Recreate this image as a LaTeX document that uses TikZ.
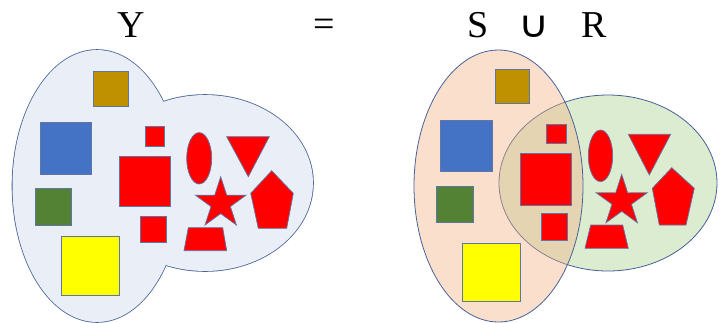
\documentclass[tikz,border=0pt]{standalone}
\usepackage{fontspec}
\setmainfont{Liberation Serif}
\newfontfamily\dejavu{DejaVu Sans}
\definecolor{blobfill}{RGB}{234,239,247}
\definecolor{edge}{RGB}{72,98,152}
\definecolor{shapeedge}{RGB}{95,118,165}
\definecolor{sfill}{RGB}{244,177,131}
\definecolor{rfill}{RGB}{169,209,142}
\definecolor{cbrown}{RGB}{191,144,0}
\definecolor{cblue}{RGB}{68,114,196}
\definecolor{cgreen}{RGB}{84,130,53}
\definecolor{cyellow}{RGB}{255,255,0}
\definecolor{cred}{RGB}{255,0,0}
\tikzset{
  shp/.style={draw=shapeedge, line width=0.7pt},
  redshp/.style={shp, fill=cred},
  label/.style={font=\fontsize{38}{44}\selectfont, inner sep=0pt, anchor=base},
}
\newcommand\mystar[4]{\draw[redshp] ({#1},{#2-#3}) \foreach \i in {1,...,9}{ -- ({#1+(isodd(\i)?#4:#3)*cos(-90+36*\i)},{#2+(isodd(\i)?#4:#3)*sin(-90+36*\i)}) } -- cycle;}
\begin{document}
\begin{tikzpicture}[x=1pt,y=-1pt]
\useasboundingbox (0,0) rectangle (726,322);
\fill[white] (0,0) rectangle (726,322);
% ---- titles
\node[label] (ty) at (131,37.3) {Y};
\node[label] (teq) at (324,36) {=};
\node[label] (ts) at (477.7,37.3) {S};
\node[inner sep=0pt, anchor=base, xscale=1.15, font=\dejavu\fontsize{37}{44}\selectfont] (tcup) at (534,37.3) {∪};
\node[label] (tr) at (593.7,37.3) {R};
% ---- left blob Y (union of two ellipses)
\draw[edge, line width=1.6pt] (97,186) ellipse [x radius=84.5, y radius=136];
\draw[edge, line width=1.6pt] (205,183) ellipse [x radius=108, y radius=88];
\fill[blobfill] (97,186) ellipse [x radius=84.5, y radius=136];
\fill[blobfill] (205,183) ellipse [x radius=108, y radius=88];
% ---- right: S and R
\draw[edge, line width=0.8pt, fill=rfill, fill opacity=0.4] (608,183) ellipse [x radius=109, y radius=88];
\draw[edge, line width=0.8pt, fill=sfill, fill opacity=0.4] (498.5,186) ellipse [x radius=84.5, y radius=136];
% ---- left shapes
\draw[shp, fill=cbrown] (93.3,71) rectangle (128.3,106);
\draw[shp, fill=cblue] (40,122.7) rectangle (91,174);
\draw[shp, fill=cgreen] (35,188.3) rectangle (71.7,225);
\draw[shp, fill=cyellow] (61,236.7) rectangle (119.3,295.3);
\draw[redshp] (145.7,126) rectangle (164.3,146);
\draw[redshp] (119.3,156) rectangle (170.7,206.7);
\draw[redshp] (140,216) rectangle (166.3,242.3);
\draw[redshp] (199.2,158.3) ellipse [x radius=12.5, y radius=25.7];
\draw[redshp] (226.7,136.7) -- (269.3,136.7) -- (248.3,176.7) -- cycle;
\mystar{220.7}{203.4}{26.7}{10.2}
\draw[redshp] (271.7,170.7) -- (293.3,193.3) -- (286.7,228.3) -- (258.3,228.3) -- (250.7,193.3) -- cycle;
\draw[redshp] (188.3,227.7) -- (222.7,227.7) -- (226.7,250.7) -- (184,250.7) -- cycle;
% ---- right shapes
\draw[shp, fill=cbrown] (495,69) rectangle (529.3,103.3);
\draw[shp, fill=cblue] (440.7,120) rectangle (492.7,171.7);
\draw[shp, fill=cgreen] (436,186.7) rectangle (473.3,222.7);
\draw[shp, fill=cyellow] (462.3,243.3) rectangle (520.7,301.7);
\draw[redshp] (546.7,124) rectangle (566,143.3);
\draw[redshp] (520.7,153.3) rectangle (571.7,205);
\draw[redshp] (541,213.3) rectangle (567.7,240);
\draw[redshp] (600.5,155.8) ellipse [x radius=12.2, y radius=25.8];
\draw[redshp] (628.3,134.3) -- (670.7,134.3) -- (649.3,175) -- cycle;
\mystar{621.7}{201.1}{26.8}{10.2}
\draw[redshp] (671.7,167.7) -- (694.3,188.3) -- (686,225) -- (659.3,225) -- (652.3,188.3) -- cycle;
\draw[redshp] (590.7,225) -- (622.7,225) -- (628.3,248.3) -- (585,248.3) -- cycle;
\end{tikzpicture}
\end{document}
